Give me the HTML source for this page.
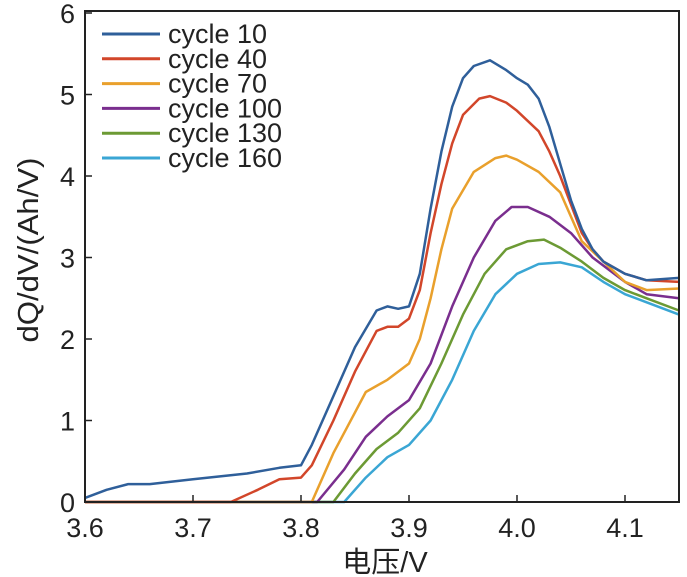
<!DOCTYPE html>
<html><head><meta charset="utf-8"><style>
body{margin:0;background:#fff;}
svg{display:block;font-family:"Liberation Sans","Noto Sans CJK SC",sans-serif;}
</style></head><body>
<svg id="chart" width="687" height="577">
<g id="plot"></g>
</svg>
<script>
const xTicks=[3.6,3.7,3.8,3.9,4.0,4.1];
const xTickLabels=["3.6","3.7","3.8","3.9","4.0","4.1"];
const yTicks=[0,1,2,3,4,5,6];
const seriesNames=["cycle 10","cycle 40","cycle 70","cycle 100","cycle 130","cycle 160"];
const seriesColors=["#2f5f9a","#d2462a","#e9a02c","#7a2e8e","#6c9a34","#3aa6d4"];
const c10=[[3.6,0.05],[3.62,0.15],[3.64,0.22],[3.66,0.22],[3.7,0.28],[3.75,0.35],[3.78,0.42],[3.8,0.45],[3.81,0.7],[3.83,1.3],[3.85,1.9],[3.87,2.35],[3.88,2.4],[3.89,2.37],[3.9,2.4],[3.91,2.8],[3.92,3.6],[3.93,4.3],[3.94,4.85],[3.95,5.2],[3.96,5.35],[3.975,5.42],[3.99,5.3],[4.0,5.2],[4.01,5.12],[4.02,4.95],[4.03,4.6],[4.04,4.15],[4.05,3.7],[4.06,3.35],[4.07,3.1],[4.08,2.95],[4.1,2.8],[4.12,2.72],[4.15,2.75]];
const c40=[[3.6,0],[3.735,0],[3.76,0.15],[3.78,0.28],[3.8,0.3],[3.81,0.45],[3.83,1.0],[3.85,1.6],[3.87,2.1],[3.88,2.15],[3.89,2.15],[3.9,2.25],[3.91,2.6],[3.92,3.3],[3.93,3.9],[3.94,4.4],[3.95,4.75],[3.965,4.95],[3.975,4.98],[3.99,4.9],[4.0,4.8],[4.02,4.55],[4.03,4.3],[4.04,4.0],[4.05,3.65],[4.06,3.3],[4.07,3.1],[4.08,2.95],[4.1,2.8],[4.12,2.72],[4.15,2.7]];
const c70=[[3.6,0],[3.81,0],[3.83,0.6],[3.85,1.1],[3.86,1.35],[3.88,1.5],[3.9,1.7],[3.91,2.0],[3.92,2.5],[3.93,3.1],[3.94,3.6],[3.96,4.05],[3.98,4.22],[3.99,4.25],[4.0,4.2],[4.02,4.05],[4.04,3.8],[4.05,3.5],[4.06,3.2],[4.08,2.95],[4.1,2.7],[4.12,2.6],[4.15,2.62]];
const c100=[[3.6,0],[3.815,0],[3.84,0.4],[3.86,0.8],[3.88,1.05],[3.9,1.25],[3.92,1.7],[3.94,2.4],[3.96,3.0],[3.98,3.45],[3.995,3.62],[4.01,3.62],[4.03,3.5],[4.05,3.3],[4.07,3.0],[4.1,2.7],[4.12,2.55],[4.15,2.5]];
const c130=[[3.6,0],[3.83,0],[3.85,0.35],[3.87,0.65],[3.89,0.85],[3.91,1.15],[3.93,1.7],[3.95,2.3],[3.97,2.8],[3.99,3.1],[4.01,3.2],[4.025,3.22],[4.04,3.12],[4.06,2.95],[4.08,2.75],[4.1,2.6],[4.12,2.5],[4.15,2.35]];
const c160=[[3.6,0],[3.84,0],[3.86,0.3],[3.88,0.55],[3.9,0.7],[3.92,1.0],[3.94,1.5],[3.96,2.1],[3.98,2.55],[4.0,2.8],[4.02,2.92],[4.04,2.94],[4.06,2.88],[4.08,2.7],[4.1,2.55],[4.12,2.45],[4.15,2.3]];
const allSeries=[c10,c40,c70,c100,c130,c160];

const L=85,R=679,T=11,B=502;
const sx=v=>L+(v-3.6)*1080;
const sy=v=>B-v*81.5;
const NS="http://www.w3.org/2000/svg";
const g=document.getElementById('plot');
function mk(t,a){const e=document.createElementNS(NS,t);for(const k in a)e.setAttribute(k,a[k]);return e;}

for(let i=allSeries.length-1;i>=0;i--){
  const d=allSeries[i].map((p,j)=>(j?'L':'M')+sx(p[0]).toFixed(1)+','+sy(p[1]).toFixed(1)).join('');
  const p=mk('path',{d:d,fill:'none',stroke:seriesColors[i],'stroke-width':2.5,'stroke-linejoin':'round'});
  
  
  g.appendChild(p);
}
const fr=mk('rect',{x:L,y:T,width:R-L,height:B-T,fill:'none',stroke:'#222','stroke-width':2});


g.appendChild(fr);
xTicks.forEach((v,i)=>{
  const t=mk('line',{x1:sx(v),x2:sx(v),y1:B,y2:B-7,stroke:'#222','stroke-width':1.5});
  
  
  g.appendChild(t);
  const tx=mk('text',{x:sx(v),y:B+35,'text-anchor':'middle','font-size':27,fill:'#222'});
  tx.textContent=xTickLabels[i];
  
  
  g.appendChild(tx);
});
yTicks.forEach(v=>{
  const t=mk('line',{x1:L,x2:L+7,y1:sy(v),y2:sy(v),stroke:'#222','stroke-width':1.5});
  
  
  g.appendChild(t);
  const tx=mk('text',{x:L-10,y:sy(v)+10,'text-anchor':'end','font-size':27,fill:'#222'});
  tx.textContent=String(v);
  
  
  g.appendChild(tx);
});
seriesNames.forEach((n,i)=>{
  const y=34+i*24.8;
  const ln=mk('line',{x1:102,x2:160,y1:y,y2:y,stroke:seriesColors[i],'stroke-width':3});
  
  
  g.appendChild(ln);
  const tx=mk('text',{x:168,y:y+9,'font-size':27,fill:'#222'});
  tx.textContent=n;
  
  
  g.appendChild(tx);
});
const xt=mk('text',{x:385,y:572,'text-anchor':'middle','font-size':29,fill:'#222'});
xt.textContent='电压/V';


g.appendChild(xt);
const yt=mk('text',{x:0,y:0,'text-anchor':'middle','font-size':29,fill:'#222',textLength:185,lengthAdjust:'spacingAndGlyphs',transform:'translate(38,250) rotate(-90)'});
yt.textContent='dQ/dV/(Ah/V)';


g.appendChild(yt);
</script>
</body></html>
